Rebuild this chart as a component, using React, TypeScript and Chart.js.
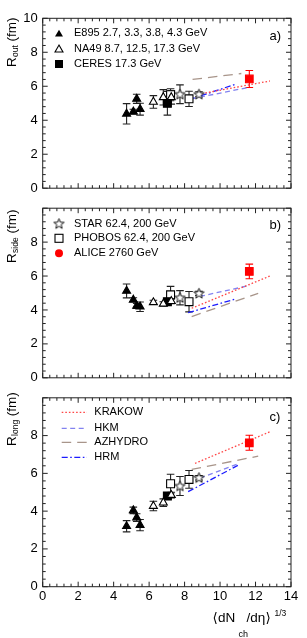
import React, { useEffect, useRef } from 'react';
import { Chart, registerables } from 'chart.js';
Chart.register(...registerables);

// ---------------- data ----------------
const xTickStep = 2;
const yTickStep = 2;

const e895X = [4.73, 5.11, 5.3, 5.49];
const e895Rout = [4.38, 4.5, 5.26, 4.65];
const e895RoutErr = [0.6, 0.15, 0.27, 0.35];
const e895Rside = [5.12, 4.6, 4.24, 4.19];
const e895RsideErr = [0.41, 0.12, 0.15, 0.28];
const e895Rlong = [3.2, 4.04, 3.66, 3.26];
const e895RlongErr = [0.3, 0.17, 0.2, 0.3];

const na49X = [6.24, 6.8, 7.25];
const na49Rout = [5.08, 5.35, 5.35];
const na49RoutErr = [0.37, 0.45, 0.4];
const na49Rside = [4.45, 4.36, 4.52];
const na49RsideErr = [0.12, 0.12, 0.15];
const na49Rlong = [4.27, 4.45, 4.85];
const na49RlongErr = [0.25, 0.2, 0.15];

const ceresX = [7.03];
const ceresRout = [5.0];
const ceresRoutErr = [0.7];
const ceresRside = [4.49];
const ceresRsideErr = [0.15];
const ceresRlong = [4.8];
const ceresRlongErr = [0.12];

const phobosX = [7.21, 8.25];
const phobosRout = [5.5, 5.26];
const phobosRoutErr = [0.35, 0.45];
const phobosRside = [4.89, 4.49];
const phobosRsideErr = [0.5, 0.6];
const phobosRlong = [5.45, 5.68];
const phobosRlongErr = [0.5, 0.47];

const starX = [7.74, 8.81];
const starRout = [5.53, 5.53];
const starRoutErr = [0.55, 0.15];
const starRside = [4.72, 4.98];
const starRsideErr = [0.42, 0.12];
const starRlong = [5.33, 5.77];
const starRlongErr = [0.5, 0.12];

const aliceX = [11.65];
const aliceRout = [6.43];
const aliceRoutErr = [0.5];
const aliceRside = [6.27];
const aliceRsideErr = [0.43];
const aliceRlong = [7.62];
const aliceRlongErr = [0.4];

const krakowOutX = [8.77, 12.81];
const krakowOutY = [5.53, 6.31];
const krakowSideX = [8.4, 12.81];
const krakowSideY = [4.1, 6.0];
const krakowLongX = [8.59, 12.81];
const krakowLongY = [6.53, 8.2];

const hkmOutX = [8.4, 11.5];
const hkmOutY = [5.26, 5.91];
const hkmSideX = [8.87, 11.69];
const hkmSideY = [4.8, 5.45];
const hkmLongX = [8.87, 11.1];
const hkmLongY = [5.75, 6.53];

const azOutX = [8.45, 11.2];
const azOutY = [6.4, 6.75];
const azSideX = [8.4, 12.15];
const azSideY = [3.61, 4.98];
const azLongX = [8.4, 12.15];
const azLongY = [6.21, 6.91];

const hrmOutX = [8.25, 10.93];
const hrmOutY = [5.21, 6.14];
const hrmSideX = [8.2, 10.93];
const hrmSideY = [3.84, 4.66];
const hrmLongX = [8.2, 11.0];
const hrmLongY = [5.03, 6.42];

const legendA = ['E895 2.7, 3.3, 3.8, 4.3 GeV', 'NA49 8.7, 12.5, 17.3 GeV', 'CERES 17.3 GeV'];
const legendB = ['STAR 62.4, 200 GeV', 'PHOBOS 62.4, 200 GeV', 'ALICE 2760 GeV'];
const legendC = ['KRAKOW', 'HKM', 'AZHYDRO', 'HRM'];

// ---------------- styles ----------------
const FONT = '"Liberation Sans", Arial, Helvetica, sans-serif';
const C_KRAKOW = '#ff4646';
const C_HKM = '#8282f0';
const C_AZ = '#a8958a';
const C_HRM = '#1c1cff';
const C_ALICE = '#ff0000';
const D_KRAKOW = [1.6, 2.0];
const D_HKM = [5, 3.5];
const D_AZ = [9.5, 6];
const D_HRM = [6, 2.5, 1.6, 2.5];

const PANELS = [
  {
    top: 18.3, bottom: 208.2, letter: 'a)', letterY: 36.7, sub: 'out', titleY: 67, showTen: true,
    e895: [e895Rout, e895RoutErr], na49: [na49Rout, na49RoutErr], ceres: [ceresRout, ceresRoutErr],
    phobos: [phobosRout, phobosRoutErr], star: [starRout, starRoutErr], alice: [aliceRout, aliceRoutErr],
    krakow: [krakowOutX, krakowOutY], hkm: [hkmOutX, hkmOutY], az: [azOutX, azOutY], hrm: [hrmOutX, hrmOutY],
  },
  {
    top: 208.2, bottom: 397.8, letter: 'b)', letterY: 225.5, sub: 'side', titleY: 263, showTen: false,
    e895: [e895Rside, e895RsideErr], na49: [na49Rside, na49RsideErr], ceres: [ceresRside, ceresRsideErr],
    phobos: [phobosRside, phobosRsideErr], star: [starRside, starRsideErr], alice: [aliceRside, aliceRsideErr],
    krakow: [krakowSideX, krakowSideY], hkm: [hkmSideX, hkmSideY], az: [azSideX, azSideY], hrm: [hrmSideX, hrmSideY],
  },
  {
    top: 397.8, bottom: 586.7, letter: 'c)', letterY: 417.5, sub: 'long', titleY: 446, showTen: false,
    e895: [e895Rlong, e895RlongErr], na49: [na49Rlong, na49RlongErr], ceres: [ceresRlong, ceresRlongErr],
    phobos: [phobosRlong, phobosRlongErr], star: [starRlong, starRlongErr], alice: [aliceRlong, aliceRlongErr],
    krakow: [krakowLongX, krakowLongY], hkm: [hkmLongX, hkmLongY], az: [azLongX, azLongY], hrm: [hrmLongX, hrmLongY],
  },
];

function starPath(g: CanvasRenderingContext2D, cx: number, cy: number, R: number, r: number) {
  g.beginPath();
  for (let k = 0; k < 10; k++) {
    const a = -Math.PI / 2 + (k * Math.PI) / 5;
    const rad = k % 2 === 0 ? R : r;
    const px = cx + rad * Math.cos(a);
    const py = cy + rad * Math.sin(a);
    if (k === 0) g.moveTo(px, py);
    else g.lineTo(px, py);
  }
  g.closePath();
}

function makeStarImg(): HTMLCanvasElement {
  const c = document.createElement('canvas');
  c.width = 13;
  c.height = 13;
  const g = c.getContext('2d')!;
  starPath(g, 6.5, 6.8, 5.4, 2.3);
  g.fillStyle = '#fff';
  g.fill();
  g.strokeStyle = '#111';
  g.lineWidth = 1;
  g.stroke();
  return c;
}

function triPath(g: CanvasRenderingContext2D, x: number, y: number, r: number) {
  g.beginPath();
  g.moveTo(x, y - r);
  g.lineTo(x + 0.866 * r, y + 0.5 * r);
  g.lineTo(x - 0.866 * r, y + 0.5 * r);
  g.closePath();
}

function scatterDs(label: string, xs: number[], ys: number[], errs: number[], style: any, radius: number, fill: string, stroke: string, errColor: string) {
  return {
    label,
    data: xs.map((x, i) => ({ x, y: ys[i] })),
    errs,
    errColor,
    showLine: false,
    pointStyle: style,
    pointRadius: radius,
    pointBackgroundColor: fill,
    pointBorderColor: stroke,
    pointBorderWidth: 1.1,
    backgroundColor: fill,
    borderColor: stroke,
  };
}

function lineDs(label: string, xs: number[], ys: number[], color: string, dash: number[]) {
  return {
    label,
    data: xs.map((x, i) => ({ x, y: ys[i] })),
    showLine: true,
    pointRadius: 0,
    borderColor: color,
    backgroundColor: color,
    borderWidth: 1.3,
    borderDash: dash,
    fill: false,
  };
}

function makePlugin(p: any, idx: number, starImg: HTMLCanvasElement) {
  return {
    id: 'panelDeco' + idx,
    beforeDatasetsDraw(chart: any) {
      const ctx = chart.ctx;
      const ys = chart.scales.y;
      ctx.save();
      chart.data.datasets.forEach((ds: any, i: number) => {
        if (!ds.errs) return;
        const meta = chart.getDatasetMeta(i);
        ctx.strokeStyle = ds.errColor;
        ctx.lineWidth = 1.1;
        ds.data.forEach((pt: any, j: number) => {
          const el = meta.data[j];
          const x = el.x;
          const y1 = ys.getPixelForValue(pt.y + ds.errs[j]);
          const y2 = ys.getPixelForValue(pt.y - ds.errs[j]);
          ctx.beginPath();
          ctx.moveTo(x, y1);
          ctx.lineTo(x, y2);
          ctx.moveTo(x - 3.8, y1);
          ctx.lineTo(x + 3.8, y1);
          ctx.moveTo(x - 3.8, y2);
          ctx.lineTo(x + 3.8, y2);
          ctx.stroke();
        });
      });
      ctx.restore();
    },
    afterDraw(chart: any) {
      const ctx: CanvasRenderingContext2D = chart.ctx;
      const { left, right, top, bottom } = chart.chartArea;
      const xs = chart.scales.x;
      const ys = chart.scales.y;
      ctx.save();
      // frame
      ctx.strokeStyle = '#222';
      ctx.lineWidth = 1;
      ctx.strokeRect(left, top, right - left, bottom - top);
      // ticks
      ctx.beginPath();
      for (let i = 0; i <= 35; i++) {
        const v = i * 0.4;
        const px = xs.getPixelForValue(v);
        const L = i % 5 === 0 ? 5 : 3;
        ctx.moveTo(px, bottom);
        ctx.lineTo(px, bottom - L);
        ctx.moveTo(px, top);
        ctx.lineTo(px, top + L);
      }
      for (let i = 0; i <= 25; i++) {
        const v = i * 0.4;
        const py = ys.getPixelForValue(v);
        const L = i % 5 === 0 ? 5 : 3;
        ctx.moveTo(left, py);
        ctx.lineTo(left + L, py);
        ctx.moveTo(right, py);
        ctx.lineTo(right - L, py);
      }
      ctx.stroke();

      // panel letter
      ctx.fillStyle = '#000';
      ctx.font = '13px ' + FONT;
      ctx.textBaseline = 'middle';
      ctx.textAlign = 'left';
      ctx.fillText(p.letter, 269.5, p.letterY);

      // y title (rotated)
      ctx.save();
      ctx.translate(16, p.titleY);
      ctx.rotate(-Math.PI / 2);
      ctx.textBaseline = 'alphabetic';
      ctx.font = '13.5px ' + FONT;
      ctx.fillText('R', 0, 0);
      let w = ctx.measureText('R').width;
      ctx.font = '8.5px ' + FONT;
      ctx.fillText(p.sub, w + 0.3, 1.8);
      w += ctx.measureText(p.sub).width + 0.3;
      ctx.font = '13.5px ' + FONT;
      ctx.fillText(' (fm)', w, 0);
      ctx.restore();

      // legends
      ctx.font = '11px ' + FONT;
      ctx.textBaseline = 'middle';
      ctx.fillStyle = '#000';
      if (idx === 0) {
        const rows = [33.3, 48.7, 64];
        // filled triangle
        triPath(ctx, 59, rows[0] + 1, 4.6);
        ctx.fillStyle = '#000';
        ctx.fill();
        // open triangle
        triPath(ctx, 59, rows[1] + 1, 4.6);
        ctx.fillStyle = '#fff';
        ctx.fill();
        ctx.strokeStyle = '#000';
        ctx.lineWidth = 1.1;
        ctx.stroke();
        // filled square
        ctx.fillStyle = '#000';
        ctx.fillRect(55, rows[2] - 4, 8, 8);
        legendA.forEach((t, i) => ctx.fillText(t, 74, rows[i]));
      } else if (idx === 1) {
        const rows = [224, 238.3, 253.3];
        ctx.drawImage(starImg, 59 - 6.5, rows[0] - 6.8);
        ctx.strokeStyle = '#000';
        ctx.lineWidth = 1.1;
        ctx.strokeRect(55, rows[1] - 4, 8, 8);
        ctx.beginPath();
        ctx.arc(59, rows[2], 4, 0, Math.PI * 2);
        ctx.fillStyle = C_ALICE;
        ctx.fill();
        ctx.fillStyle = '#000';
        legendB.forEach((t, i) => ctx.fillText(t, 74, rows[i]));
      } else {
        const rows = [412.3, 428.3, 442.3, 457.3];
        const cols = [C_KRAKOW, C_HKM, C_AZ, C_HRM];
        const dashes = [D_KRAKOW, D_HKM, D_AZ, D_HRM];
        rows.forEach((r, i) => {
          ctx.save();
          ctx.strokeStyle = cols[i];
          ctx.lineWidth = 1.3;
          ctx.setLineDash(dashes[i]);
          ctx.beginPath();
          ctx.moveTo(61.7, r);
          ctx.lineTo(87, r);
          ctx.stroke();
          ctx.restore();
          ctx.fillStyle = '#000';
          ctx.fillText(legendC[i], 94.3, r);
        });
        // x title
        ctx.textBaseline = 'alphabetic';
        ctx.font = '13.5px "DejaVu Sans", ' + FONT;
        ctx.fillText('\u27E8', 212.5, 621.5);
        ctx.font = '13.5px ' + FONT;
        ctx.fillText('dN', 218, 621.5);
        ctx.font = '9px ' + FONT;
        ctx.fillText('ch', 238.5, 637);
        ctx.font = '13.5px ' + FONT;
        ctx.fillText('/d\u03B7', 246.5, 621.5);
        ctx.font = '13.5px "DejaVu Sans", ' + FONT;
        ctx.fillText('\u27E9', 265.5, 621.5);
        ctx.font = '8.5px ' + FONT;
        ctx.fillText('1/3', 274.5, 615.5);
      }
      ctx.restore();
    },
  };
}

function buildConfig(p: any, idx: number, starImg: HTMLCanvasElement): any {
  const datasets = [
    scatterDs('E895', e895X, p.e895[0], p.e895[1], 'triangle', 4.6, '#000', '#000', '#222'),
    scatterDs('NA49', na49X, p.na49[0], p.na49[1], 'triangle', 4.6, '#fff', '#000', '#222'),
    scatterDs('CERES', ceresX, p.ceres[0], p.ceres[1], 'rect', 5.6, '#000', '#000', '#222'),
    scatterDs('PHOBOS', phobosX, p.phobos[0], p.phobos[1], 'rect', 5.6, '#fff', '#000', '#222'),
    scatterDs('STAR', starX, p.star[0], p.star[1], starImg, 6, '#fff', '#000', '#222'),
    scatterDs('ALICE', aliceX, p.alice[0], p.alice[1], 'rect', 5.4, C_ALICE, C_ALICE, C_ALICE),
    lineDs('KRAKOW', p.krakow[0], p.krakow[1], C_KRAKOW, D_KRAKOW),
    lineDs('HKM', p.hkm[0], p.hkm[1], C_HKM, D_HKM),
    lineDs('AZHYDRO', p.az[0], p.az[1], C_AZ, D_AZ),
    lineDs('HRM', p.hrm[0], p.hrm[1], C_HRM, D_HRM),
  ];
  const xAxisH = 20;
  const bottomPad = idx === 2 ? 638 - p.bottom - xAxisH : 638 - p.bottom;
  return {
    type: 'scatter',
    data: { datasets },
    options: {
      animation: false,
      responsive: false,
      maintainAspectRatio: false,
      events: [],
      layout: { padding: { left: 0, right: 16, top: p.top, bottom: bottomPad } },
      plugins: { legend: { display: false }, tooltip: { enabled: false } },
      scales: {
        x: {
          type: 'linear',
          min: 0,
          max: 14,
          display: idx === 2,
          ticks: { stepSize: xTickStep, font: { family: FONT, size: 13 }, color: '#000', padding: 2, maxRotation: 0, autoSkip: false },
          grid: { display: false, drawTicks: false },
          border: { display: false },
          afterFit: (s: any) => { s.height = xAxisH; },
        },
        y: {
          type: 'linear',
          min: 0,
          max: 10,
          ticks: {
            stepSize: yTickStep,
            font: { family: FONT, size: 13 },
            color: '#000',
            padding: 5,
            callback: (v: any) => (!p.showTen && v === 10 ? '' : String(v)),
          },
          grid: { display: false, drawTicks: false },
          border: { display: false },
          afterFit: (s: any) => { s.width = 42.7; },
        },
      },
    },
    plugins: [makePlugin(p, idx, starImg)],
  };
}

export default function App() {
  const r0 = useRef<HTMLCanvasElement>(null);
  const r1 = useRef<HTMLCanvasElement>(null);
  const r2 = useRef<HTMLCanvasElement>(null);
  const refs = [r0, r1, r2];
  useEffect(() => {
    const starImg = makeStarImg();
    const charts = PANELS.map((p, i) => new Chart(refs[i].current!, buildConfig(p, i, starImg)));
    return () => charts.forEach((c) => c.destroy());
  }, []);
  return (
    <div style={{ position: 'absolute', left: 0, top: 0, width: 307, height: 638, background: '#fff' }}>
      {refs.map((r, i) => (
        <canvas
          key={i}
          ref={r}
          width={307}
          height={638}
          style={{ position: 'absolute', left: 0, top: 0, width: 307, height: 638 }}
        />
      ))}
    </div>
  );
}
